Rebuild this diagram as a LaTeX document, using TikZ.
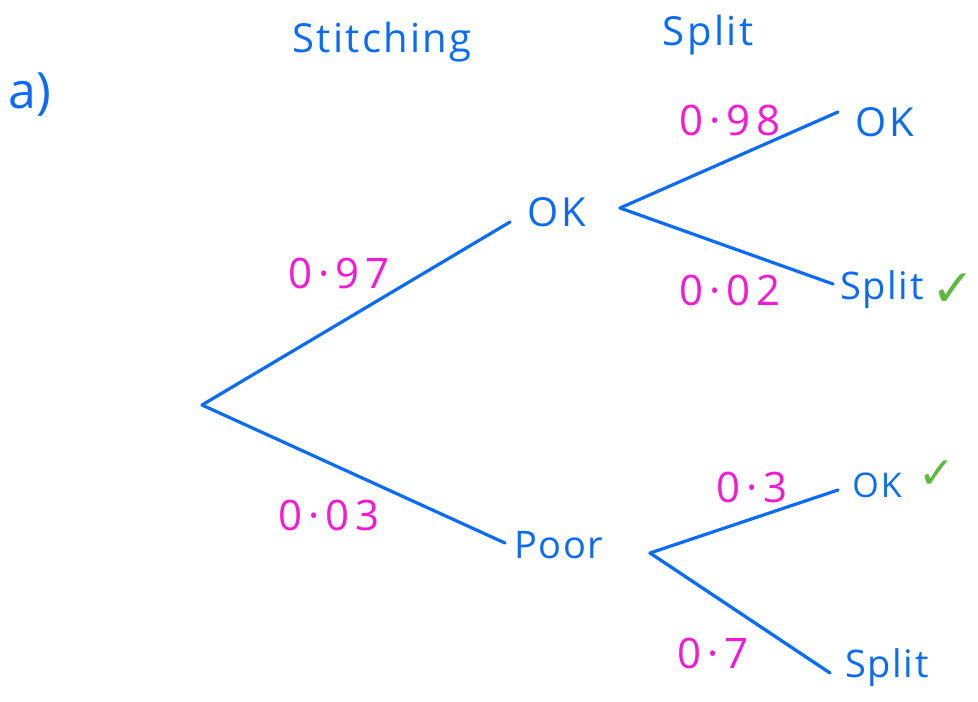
\documentclass[tikz,border=0pt]{standalone}
\usepackage{fontspec}
\setmainfont{Open Sans}
\newfontfamily\symfont{DejaVu Sans}
\definecolor{penblue}{HTML}{0A6CF5}
\definecolor{penpink}{HTML}{F21AD2}
\definecolor{pengreen}{HTML}{5FB840}
\begin{document}
\begin{tikzpicture}[x=1pt,y=-1pt,
  branch/.style={draw=penblue,line width=3.2pt,line cap=round},
  lbl/.style={text=penblue,font=\fontsize{40}{44}\selectfont\addfontfeature{LetterSpace=6},inner sep=0pt},
  prob/.style={text=penpink,font=\fontsize{42}{46}\selectfont\addfontfeature{LetterSpace=14},inner sep=0pt},
  tick/.style={text=pengreen,font=\symfont\fontsize{52}{56}\selectfont,inner sep=0pt}]
\useasboundingbox (0,0) rectangle (978,702);
\fill[white] (0,0) rectangle (978,702);
% headings
\node[lbl,font=\fontsize{50}{54}\selectfont] (hA) at (30,95) {a)};
\node[lbl] (hS) at (382,42) {Stitching};
\node[lbl] (hP) at (708,35) {Split};
% tree points
\coordinate (root) at (202,405);
\coordinate (okin) at (510,222);
\coordinate (poorin) at (505,543);
\coordinate (okout) at (620,208);
\coordinate (poorout) at (650,553);
\coordinate (l1) at (838,112);
\coordinate (l2) at (833,284);
\coordinate (l3) at (838,490);
\coordinate (l4) at (830,673);
% nodes
\node[lbl] (ok) at (557,212) {OK};
\node[lbl,font=\fontsize{38}{42}\selectfont\addfontfeature{LetterSpace=4}] (poor) at (559,545) {Poor};
\node[lbl] (ok1) at (885,122) {OK};
\node[lbl,font=\fontsize{38}{42}\selectfont\addfontfeature{LetterSpace=4}] (sp1) at (882,290) {Split};
\node[lbl,font=\fontsize{34}{38}\selectfont\addfontfeature{LetterSpace=6}] (ok2) at (877,485) {OK};
\node[lbl,font=\fontsize{38}{42}\selectfont\addfontfeature{LetterSpace=4}] (sp2) at (887,668) {Split};
\node[tick] (t1) at (953,290) {✓};
\node[tick,font=\symfont\fontsize{44}{48}\selectfont] (t2) at (937,475) {✓};
% branches
\draw[branch] (root) -- (okin);
\draw[branch] (root) -- (poorin);
\draw[branch] (okout) -- (l1);
\draw[branch] (okout) -- (l2);
\draw[branch] (poorout) -- (l3);
\draw[branch] (poorout) -- (l4);
% probabilities
\node[prob] (p1) at (339,273) {0·97};
\node[prob] (p2) at (329,515) {0·03};
\node[prob] (p3) at (730,120) {0·98};
\node[prob] (p4) at (730,290) {0·02};
\node[prob] (p5) at (752,487) {0·3};
\node[prob] (p6) at (713,653) {0·7};
\end{tikzpicture}
\end{document}
